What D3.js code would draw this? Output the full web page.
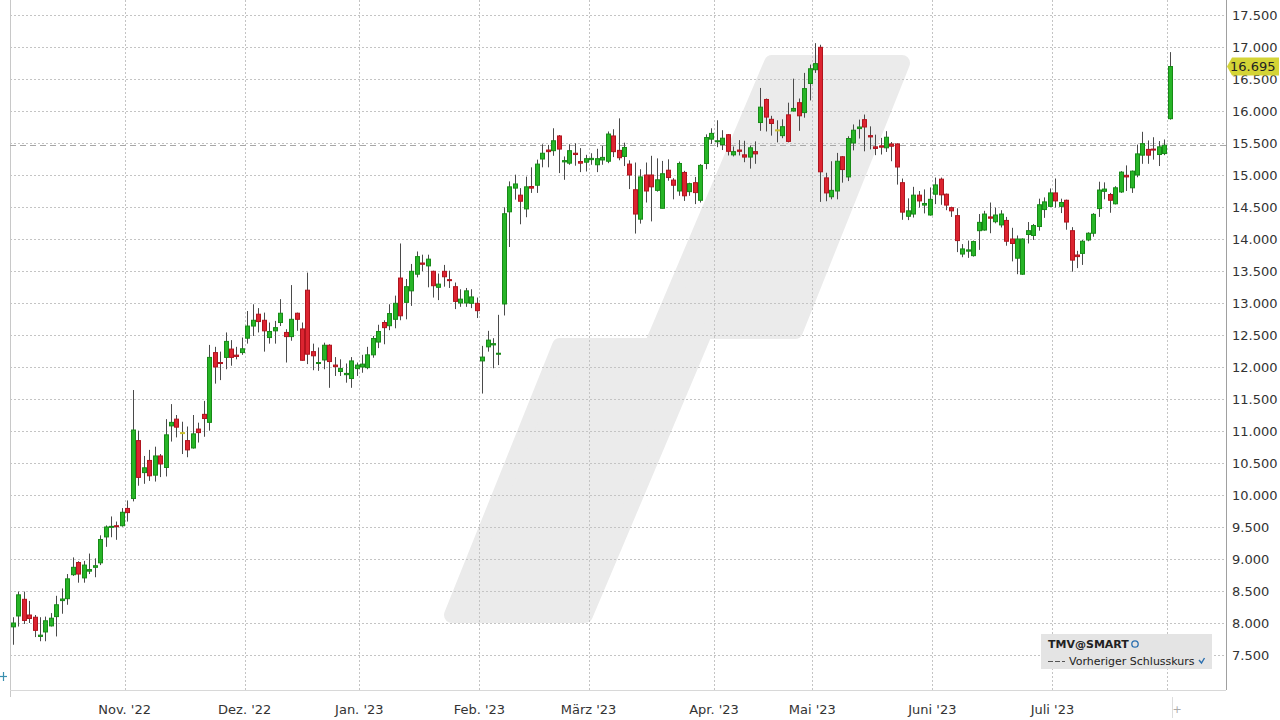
<!DOCTYPE html>
<html><head><meta charset="utf-8">
<script src="https://cdn.jsdelivr.net/npm/d3@7"></script>
<style>html,body{margin:0;padding:0;background:#fff;}svg{display:block;font-family:"DejaVu Sans",Verdana,sans-serif;}</style>
</head><body><svg id="c" width="1280" height="720"></svg>
<script>
const openV=[7940,8110,8370,8125,8090,7790,7860,7955,8100,8350,8380,8755,8945,8705,8810,8870,8940,9345,9500,9520,
9520,9790,9945,10850,10350,10540,10310,10610,10430,11080,11185,10975,10850,10735,11030,11260,11135,12225,12070,12150,
12280,12185,12225,12450,12640,12825,12730,12460,12565,12695,12540,12475,12840,12595,13200,12240,12055,12110,12340,12030,
11930,11880,11820,11975,12000,11990,12190,12390,12695,12645,12745,13390,13010,13190,13450,13625,13580,13495,13245,13495,
13365,13255,13000,13000,12995,12995,12095,12315,12345,12200,12985,14425,14795,14685,14470,14820,14840,15250,15390,15380,
15610,15205,15185,15340,15210,15200,15240,15160,15235,15215,15610,15385,15290,15170,14770,14310,15000,15000,14760,14480,
15075,14920,14750,15040,14740,14880,14605,15180,15560,15520,15475,15630,15315,15390,15315,15280,15365,15820,16180,15870,
15705,15615,15940,16000,16130,15975,16430,16645,16995,14955,14660,14750,15285,14970,15500,15725,15865,15615,15440,15455,
15425,15485,15485,14880,14355,14390,14685,14530,14375,14700,14935,14700,14490,14365,13765,13810,13740,14130,14140,14345,
14270,14220,14290,14000,13700,13450,14070,14055,14195,14460,14510,14720,14510,14605,14130,13750,13775,13985,14090,14475,
14745,14695,14550,14735,14995,14800,15000,15310,15400,15405,15320,15335,15880];
const highV=[8090,8490,8490,8345,8125,8090,8100,8155,8425,8540,8765,9025,8965,8970,9085,9010,9370,9525,9665,9585,
9795,9915,11640,11005,10610,10705,10755,10640,11185,11420,11250,11145,11070,11250,11130,11470,12345,12315,12240,12540,
12420,12315,12460,12875,12980,12920,12850,12695,12720,13060,12590,13280,12850,12695,13475,12365,12305,12380,12355,12155,
12120,12055,12155,12070,12190,12315,12485,12660,12730,12980,13115,13930,13375,13610,13805,13755,13755,13505,13460,13595,
13505,13320,13215,13235,13215,13085,12330,12565,12450,12815,14495,14900,15005,14795,14975,15120,15240,15480,15470,15730,
15625,15290,15480,15495,15420,15315,15340,15410,15455,15680,15715,15885,15505,15230,15195,15090,15195,15300,15260,15220,
15245,14950,15210,15065,14880,14970,15170,15635,15730,15855,15700,15640,15445,15545,15535,15460,15525,16360,16195,15925,
15855,15870,16130,16505,16195,16595,16725,17060,17035,15035,15215,15345,15295,15605,15790,15865,15945,15760,15630,15580,
15685,15515,15495,14945,14635,14815,14750,14775,14805,14960,14960,14710,14505,14480,13920,13975,13975,14390,14440,14570,
14490,14450,14345,14175,14055,14010,14265,14235,14630,14650,14790,14945,14630,14615,14185,13815,13985,14105,14405,14895,
14885,14720,14825,15060,15150,15070,15475,15675,15540,15590,15530,15555,16920];
const lowV=[7660,7945,7985,8000,7780,7715,7715,7945,7790,8145,8285,8735,8630,8630,8765,8715,8905,9190,9340,9300,
9505,9585,9900,10145,10175,10220,10210,10280,10290,10835,10900,10640,10590,10725,10820,10910,11005,11740,11795,11965,
12020,12120,12190,12365,12485,12540,12240,12365,12365,12640,12070,12410,12565,12100,12045,11950,11940,11965,11675,11860,
11860,11755,11675,11860,11910,11965,12145,12295,12355,12575,12605,12730,12745,12955,13400,13495,13245,13085,13045,13255,
13235,12905,12940,12940,12920,12765,11585,12240,11980,12030,12805,13875,14615,14230,14340,14720,14720,15120,15120,15300,
15030,14925,15160,15145,15045,15055,15160,15045,15160,15185,15280,15230,15140,14780,14085,14240,14570,14275,14740,14480,
14910,14620,14675,14595,14675,14545,14570,15090,15485,15435,15390,15305,15290,15305,15200,15100,15175,15690,15680,15615,
15510,15575,15510,15990,15690,15895,16165,16595,14580,14590,14620,14620,14880,14905,15385,15570,15370,15400,15310,15320,
15360,15215,14850,14300,14295,14335,14490,14400,14365,14545,14535,14450,14345,13795,13715,13705,13725,13830,14130,14090,
14245,14180,13895,13650,13450,13440,13930,13985,14130,14330,14500,14490,14405,14145,13490,13545,13595,13965,14035,14345,
14620,14410,14540,14720,14750,14720,14965,15175,15175,15240,15140,15310,15865];
const closeV=[8000,8440,8040,8070,7885,7810,8035,8075,8285,8375,8690,8870,8765,8905,8835,8895,9305,9500,9510,9505,
9730,9725,11015,10275,10425,10300,10610,10485,10940,11135,11060,10975,10705,10955,10975,11195,12150,12000,12055,12400,
12150,12165,12285,12640,12730,12710,12565,12555,12615,12840,12475,12745,12745,12105,12200,12175,12070,12340,12085,12005,
11975,11900,12095,12030,12045,12190,12445,12555,12615,12835,12995,12800,13255,13495,13725,13605,13685,13270,13295,13410,
13350,13025,13060,13190,13095,12880,12155,12420,12365,12215,14395,14815,14860,14590,14815,14795,15170,15340,15365,15535,
15405,15225,15380,15320,15185,15255,15260,15255,15275,15640,15365,15270,15430,15000,14390,14970,14750,14815,14925,15020,
14960,14840,15180,14675,14865,14725,15150,15585,15650,15535,15575,15370,15365,15370,15280,15425,15330,16060,15905,15805,
15705,15755,15525,16040,15925,16350,16660,16740,15050,14720,14760,15215,15085,15570,15700,15750,15750,15595,15415,15435,
15590,15450,15125,14420,14440,14685,14595,14555,14620,14845,14690,14530,14440,13975,13845,13830,13960,14260,14390,14325,
14375,14390,13965,13930,14000,14000,14130,14210,14535,14580,14720,14595,14570,14265,13670,13725,13965,14090,14385,14765,
14780,14605,14800,15045,14970,15060,15330,15490,15310,15390,15440,15465,16695];
const monthStartIdx=[21,43,64,86,106,129,147,169,191,212];
const monthLabels=["Nov. '22","Dez. '22","Jan. '23","Feb. '23","März '23","Apr. '23","Mai '23","Juni '23","Juli '23",""];
const yTickValues=[7500,8000,8500,9000,9500,10000,10500,11000,11500,12000,12500,13000,13500,14000,14500,15000,15500,16000,16500,17000,17500];
const instrumentName="TMV@SMART";
const prevCloseLabel="Vorheriger Schlusskurs";

const svg=d3.select("#c");
const L=10,R=1226,T=0,B=690;
const data=openV.map((o,i)=>({i,o,h:highV[i],l:lowV[i],c:closeV[i]}));
const x=d3.scaleLinear().domain([-0.5,222.3]).range([L,R]);
const y=d3.scaleLinear().domain([7500,17500]).range([655,15]);
const fmt=v=>d3.format(",.0f")(v).replace(/,/g,".");
const fmt3=v=>d3.format(",.0f")(v).replace(/,/g,".");

// watermark logo
const wm=svg.append("g");
wm.append("path")
 .attr("d","M452,615 L560,346 L652,346 L772,63 L902,63 L795,331 L705,331 L585,615 Z")
 .attr("fill","#ebebeb").attr("stroke","#ebebeb").attr("stroke-width",16).attr("stroke-linejoin","round");

// gridlines
const grid=svg.append("g");
grid.selectAll("line.h").data(yTickValues).join("line")
 .attr("x1",L).attr("x2",R).attr("y1",d=>Math.round(y(d))+0.5).attr("y2",d=>Math.round(y(d))+0.5)
 .attr("stroke","#c4c4c4").attr("stroke-dasharray","2,2");
grid.selectAll("line.v").data(monthStartIdx).join("line")
 .attr("y1",T).attr("y2",B).attr("x1",d=>Math.round(x(d-0.5))+0.5).attr("x2",d=>Math.round(x(d-0.5))+0.5)
 .attr("stroke","#c4c4c4").attr("stroke-dasharray","2,2");

// axes lines
svg.append("line").attr("x1",L+0.5).attr("x2",L+0.5).attr("y1",0).attr("y2",697).attr("stroke","#c8c8c8");
svg.append("line").attr("x1",R+0.5).attr("x2",R+0.5).attr("y1",0).attr("y2",B).attr("stroke","#a0a0a0");
svg.append("line").attr("x1",L).attr("x2",R).attr("y1",B+0.5).attr("y2",B+0.5).attr("stroke","#d8d8d8");

// previous close dashed line
const prevClose=closeV[closeV.length-2];
svg.append("line").attr("x1",L).attr("x2",R).attr("y1",Math.round(y(prevClose))+0.5).attr("y2",Math.round(y(prevClose))+0.5)
 .attr("stroke","#a8a8a8").attr("stroke-dasharray","6,4").attr("stroke-width",1.2);

// candles
const col=d=>d.c>d.o?["#27b527","#178a17"]:(d.c<d.o?["#dc2430","#b0141e"]:["#e8e048","#c9c030"]);
const cg=svg.append("g");
cg.selectAll("line.w").data(data).join("line")
 .attr("x1",d=>Math.round(x(d.i))+0.5).attr("x2",d=>Math.round(x(d.i))+0.5)
 .attr("y1",d=>y(d.h)).attr("y2",d=>y(d.l)).attr("stroke","#4a4a4a").attr("stroke-width",1);
cg.selectAll("rect").data(data).join("rect")
 .attr("x",d=>Math.round(x(d.i))-1.5).attr("width",4)
 .attr("y",d=>Math.min(y(d.o),y(d.c))).attr("height",d=>Math.max(1,Math.abs(y(d.o)-y(d.c))))
 .attr("fill",d=>col(d)[0]).attr("stroke",d=>col(d)[1]).attr("stroke-width",1);

// y axis labels
svg.append("g").selectAll("text").data(yTickValues).join("text")
 .attr("x",1232).attr("y",d=>y(d)).attr("dy","0.36em")
 .attr("font-size",13).attr("fill","#333").text(d=>fmt(d));

// x axis labels
svg.append("g").selectAll("text").data(monthStartIdx.map((d,k)=>({d,t:monthLabels[k]})).filter(e=>e.t)).join("text")
 .attr("x",e=>x(e.d-0.5)).attr("y",714).attr("text-anchor","middle")
 .attr("font-size",13).attr("fill","#333").text(e=>e.t);

// last price label
const last=closeV[closeV.length-1];
const ly=y(last);
svg.append("path").attr("d",`M${R+1},${ly} L${R+6},${ly-9} L1279,${ly-9} L1279,${ly+9} L${R+6},${ly+9} Z`).attr("fill","#d4d436");
svg.append("text").attr("x",1230).attr("y",ly).attr("dy","0.36em").attr("font-size",13).attr("fill","#222").text(fmt3(last));

// end marker
svg.append("line").attr("x1",1172.5).attr("x2",1172.5).attr("y1",697).attr("y2",718).attr("stroke","#ddd");
svg.append("text").attr("x",1177).attr("y",713).attr("text-anchor","middle").attr("font-size",11).attr("fill","#aaa").text("+");

// left icon
const ic=svg.append("g").attr("stroke","#3a8fb0").attr("stroke-width",1.2);
ic.append("line").attr("x1",0).attr("x2",7).attr("y1",676.5).attr("y2",676.5);
ic.append("line").attr("x1",3.5).attr("x2",3.5).attr("y1",672).attr("y2",681);

// legend
const lg=svg.append("g");
lg.append("rect").attr("x",1041).attr("y",634).attr("width",171).attr("height",35).attr("fill","#e4e4e4");
lg.append("text").attr("x",1048).attr("y",648).attr("font-size",11).attr("font-weight","bold").attr("fill","#222").text(instrumentName);
lg.append("circle").attr("cx",1135).attr("cy",644).attr("r",3.2).attr("fill","none").attr("stroke","#2a6fb0").attr("stroke-width",1.3);
lg.append("line").attr("x1",1048).attr("x2",1065).attr("y1",661.5).attr("y2",661.5).attr("stroke","#555").attr("stroke-dasharray","5,2").attr("stroke-width",1.2);
lg.append("text").attr("x",1069).attr("y",665).attr("font-size",11).attr("fill","#222").text(prevCloseLabel);
lg.append("path").attr("d","M1199,660 L1201.5,663 L1204.5,658").attr("fill","none").attr("stroke","#2a6fb0").attr("stroke-width",1.4);
</script></body></html>
